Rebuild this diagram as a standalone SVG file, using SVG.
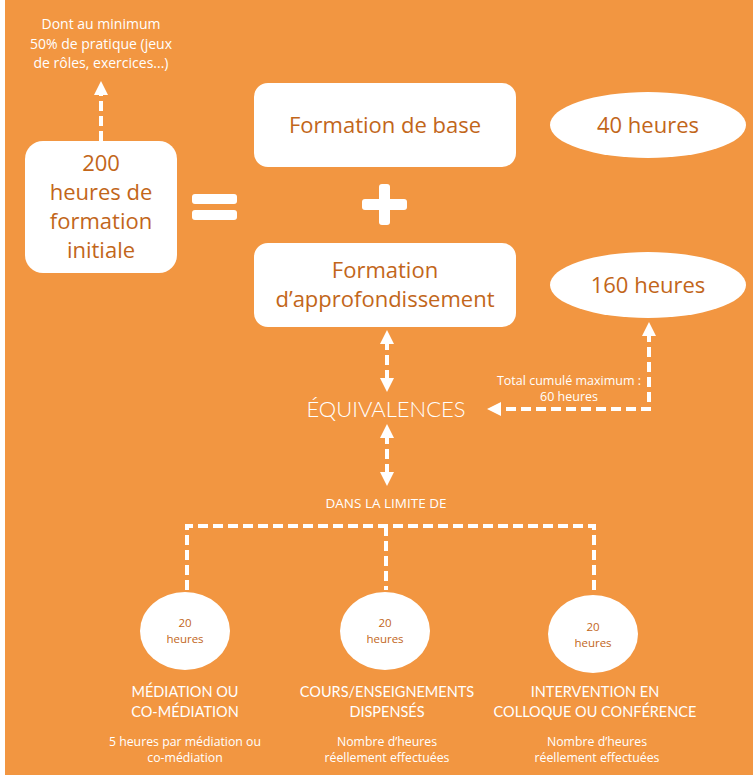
<svg xmlns="http://www.w3.org/2000/svg" width="753" height="775" viewBox="0 0 753 775">
<style>
.bg{fill:#F29641}
.box{fill:#FFFFFF}
.t{font-family:"Open Sans",Lato,"Liberation Sans",sans-serif;fill:#C2661A;text-anchor:middle}
.w{font-family:"Open Sans",Lato,"Liberation Sans",sans-serif;fill:#FFFFFF;text-anchor:middle}
.wl{font-family:Lato,"Open Sans","Liberation Sans",sans-serif;fill:#FFFFFF;text-anchor:middle}
.dash{fill:none;stroke:#FFFFFF;stroke-width:4;stroke-dasharray:10 5}
</style>
<defs>
<marker id="ah" markerUnits="userSpaceOnUse" markerWidth="16" markerHeight="16" viewBox="0 0 16 16" refX="4" refY="8" orient="auto-start-reverse">
<path d="M0,1 L14,8 L0,15 Z" fill="#FFFFFF"/>
</marker>
</defs>
<rect x="0" y="0" width="753" height="775" fill="#FFFFFF"/>
<rect class="bg" x="5" y="0" width="748" height="775"/>

<g id="connectors">
<path class="dash" d="M101,141 V91" marker-end="url(#ah)"/>
<path class="dash" d="M387,340 V382" marker-start="url(#ah)" marker-end="url(#ah)"/>
<path class="dash" d="M387,434 V476" marker-start="url(#ah)" marker-end="url(#ah)"/>
<path class="dash" d="M649,332 V409 H497" marker-start="url(#ah)" marker-end="url(#ah)"/>
<path class="dash" d="M187,590 V526 H594 V592"/>
<path class="dash" d="M386,526 V590"/>
</g>

<g id="note-pratique">
<text class="w" font-size="14"><tspan x="101" y="29">Dont au minimum</tspan><tspan x="101" y="49">50% de pratique (jeux</tspan><tspan x="101" y="68">de rôles, exercices...)</tspan></text>
</g>

<g id="formation-initiale">
<rect class="box" x="25" y="141" width="152" height="132" rx="18"/>
<text class="t" font-size="22"><tspan x="101" y="171">200</tspan><tspan x="101" y="200">heures de</tspan><tspan x="101" y="229">formation</tspan><tspan x="101" y="258">initiale</tspan></text>
</g>

<g id="egal">
<rect class="box" x="192" y="194" width="45" height="10" rx="3"/>
<rect class="box" x="192" y="210" width="45" height="10" rx="3"/>
</g>

<g id="formation-base">
<rect class="box" x="254" y="83" width="262" height="84" rx="14"/>
<text class="t" font-size="22" x="385" y="133">Formation de base</text>
</g>

<g id="h40">
<ellipse class="box" cx="648" cy="125" rx="98" ry="33"/>
<text class="t" font-size="22" x="648" y="133">40 heures</text>
</g>

<g id="plus">
<rect class="box" x="362" y="199" width="45" height="11" rx="3"/>
<rect class="box" x="379" y="184" width="11" height="41" rx="3"/>
</g>

<g id="formation-approfondissement">
<rect class="box" x="254" y="243" width="262" height="84" rx="14"/>
<text class="t" font-size="22"><tspan x="385" y="278">Formation</tspan><tspan x="385" y="307">d’approfondissement</tspan></text>
</g>

<g id="h160">
<ellipse class="box" cx="648" cy="285" rx="98" ry="33"/>
<text class="t" font-size="22" x="648" y="293">160 heures</text>
</g>

<g id="total-cumule">
<text class="w" font-size="12.5"><tspan x="569" y="385">Total cumulé maximum :</tspan><tspan x="569" y="401">60 heures</tspan></text>
</g>

<g id="equivalences">
<text class="wl" font-size="22" font-weight="300" x="386" y="417">ÉQUIVALENCES</text>
</g>

<g id="dans-la-limite">
<text class="w" font-size="13.5" x="386" y="508">DANS LA LIMITE DE</text>
</g>

<g id="mediation">
<ellipse class="box" cx="185" cy="631" rx="45" ry="39"/>
<text class="t" font-size="11.5"><tspan x="185" y="627">20</tspan><tspan x="185" y="643">heures</tspan></text>
<text class="wl" font-size="14.5"><tspan x="185" y="697">MÉDIATION OU</tspan><tspan x="185" y="717">CO-MÉDIATION</tspan></text>
<text class="w" font-size="12.3"><tspan x="185" y="746">5 heures par médiation ou</tspan><tspan x="185" y="762">co-médiation</tspan></text>
</g>

<g id="cours">
<ellipse class="box" cx="385" cy="631" rx="45" ry="39"/>
<text class="t" font-size="11.5"><tspan x="385" y="627">20</tspan><tspan x="385" y="643">heures</tspan></text>
<text class="wl" font-size="14.5"><tspan x="387" y="697">COURS/ENSEIGNEMENTS</tspan><tspan x="387" y="717">DISPENSÉS</tspan></text>
<text class="w" font-size="12.3"><tspan x="387" y="746">Nombre d’heures</tspan><tspan x="387" y="762">réellement effectuées</tspan></text>
</g>

<g id="intervention">
<ellipse class="box" cx="593" cy="634" rx="45" ry="39"/>
<text class="t" font-size="11.5"><tspan x="593" y="631">20</tspan><tspan x="593" y="647">heures</tspan></text>
<text class="wl" font-size="14.5"><tspan x="595" y="697">INTERVENTION EN</tspan><tspan x="595" y="717">COLLOQUE OU CONFÉRENCE</tspan></text>
<text class="w" font-size="12.3"><tspan x="597" y="746">Nombre d’heures</tspan><tspan x="597" y="762">réellement effectuées</tspan></text>
</g>
</svg>
